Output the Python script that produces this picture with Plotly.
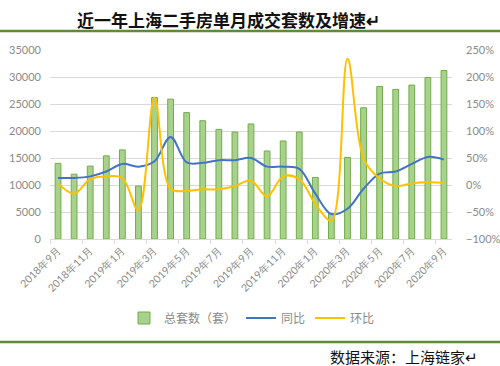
import plotly.graph_objects as go

months = ["2018年9月", "2018年10月", "2018年11月", "2018年12月", "2019年1月", "2019年2月",
          "2019年3月", "2019年4月", "2019年5月", "2019年6月", "2019年7月", "2019年8月",
          "2019年9月", "2019年10月", "2019年11月", "2019年12月", "2020年1月", "2020年2月",
          "2020年3月", "2020年4月", "2020年5月", "2020年6月", "2020年7月", "2020年8月",
          "2020年9月"]
totals = [14000, 12000, 13500, 15400, 16500, 9800, 26200, 25900, 23400, 21900, 20300, 19800,
          21300, 16300, 18150, 19800, 11400, 4700, 15100, 24300, 28250, 27700, 28500, 29900, 31200]
yoy = [13, 13, 16, 25, 39, 34, 44, 89, 42, 41, 46, 46,
       50, 34, 34, 30, -16, -54, -44, -7, 21, 25, 39, 52, 47]
mom = [3, -16, 11, 16, 13, -47, 162, -7, -11, -8, -8, -2,
       8, -21, 16, 11, -35, -66, 234, 49, 12, -2, 3, 5, 4]

title_text = "近一年上海二手房单月成交套数及增速↵"
source_text = "数据来源：上海链家↵"
series_names = ["总套数（套）", "同比", "环比"]

W, H = 500, 366
L, R, T, B = 50, 48, 50, 127
pw, ph = W - L - R, H - T - B

def px_x(x):
    return (x - L) / pw

def px_y(y):
    return (H - B - y) / ph

x = list(range(len(months)))
fig = go.Figure()
fig.add_trace(go.Bar(x=x, y=totals, name=series_names[0], width=0.36,
                     marker=dict(color="#a9d18e", line=dict(color="#70ad47", width=1))))
fig.add_trace(go.Scatter(x=x, y=yoy, name=series_names[1], yaxis="y2", mode="lines",
                         line=dict(color="#4472c4", width=2, shape="spline", smoothing=1)))
fig.add_trace(go.Scatter(x=x, y=mom, name=series_names[2], yaxis="y2", mode="lines",
                         line=dict(color="#ffc000", width=2, shape="spline", smoothing=1)))

tick_font = dict(family="Lato, sans-serif", size=11, color="#8a8a8a")
fig.update_layout(
    width=W, height=H,
    margin=dict(l=L, r=R, t=T, b=B, autoexpand=False),
    paper_bgcolor="white", plot_bgcolor="white",
    showlegend=True,
    legend=dict(orientation="h", x=px_x(252), y=px_y(318), xanchor="center", yanchor="middle",
                font=dict(family="Noto Sans CJK SC", size=12, color="#8a8a8a"),
                itemwidth=30, tracegroupgap=0),
    xaxis=dict(range=[-0.5, len(months) - 0.5], tickmode="array",
               tickvals=x[::2], ticktext=months[::2], tickangle=-45,
               tickfont=dict(family="Lato, sans-serif", size=10.5, color="#8a8a8a"),
               showgrid=False, zeroline=False,
               showline=True, linecolor="#d9d9d9", linewidth=1, ticks="",
               minor=dict(tickmode="linear", tick0=-0.5, dtick=2, ticks="outside",
                          ticklen=4, tickcolor="#d9d9d9", showgrid=False)),
    yaxis=dict(range=[0, 35000], dtick=5000, tickformat="d", tickfont=tick_font, showgrid=True,
               gridcolor="#d9d9d9", gridwidth=1, zeroline=False, showline=False,
               ticks="", ticklabelstandoff=8),
    yaxis2=dict(range=[-100, 250], dtick=50, ticksuffix="%", overlaying="y", side="right",
                tickfont=tick_font, showgrid=False, zeroline=False, showline=False,
                ticks="", ticklabelstandoff=13),
    bargap=0.64,
)

fig.add_annotation(text="<b>" + title_text + "</b>", xref="paper", yref="paper",
                   x=px_x(75), y=px_y(20), xanchor="left", yanchor="middle", showarrow=False,
                   font=dict(family="Noto Sans CJK SC", size=17, color="#111111"))
fig.add_annotation(text=source_text, xref="paper", yref="paper",
                   x=px_x(328), y=px_y(356), xanchor="left", yanchor="middle", showarrow=False,
                   font=dict(family="Noto Sans CJK SC", size=15, color="#111111"))

for yy in (31, 342):
    fig.add_shape(type="line", xref="paper", yref="paper", x0=px_x(0), x1=px_x(W),
                  y0=px_y(yy), y1=px_y(yy), line=dict(color="#5f8a3a", width=2.5))

fig.write_html("out.html", config={"displayModeBar": False},
               post_script="document.body.style.margin='0';")
